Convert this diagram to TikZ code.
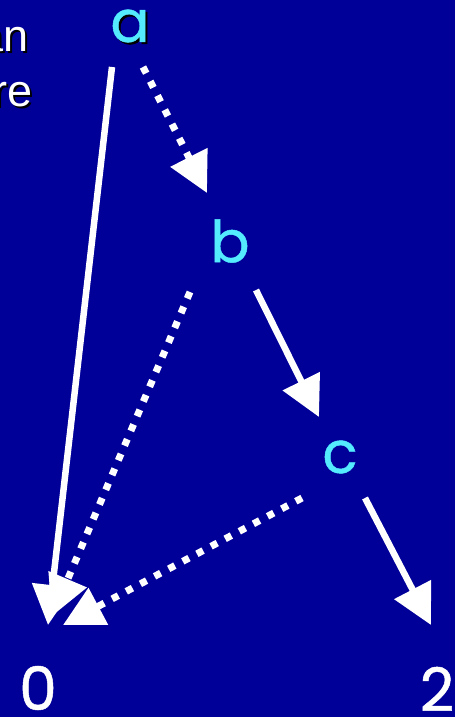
\documentclass[tikz,border=0pt]{standalone}
\usepackage{fontspec}
\setmainfont{Liberation Sans}
\newfontfamily\labelfont{Poppins}[FakeBold=0.8]
\usetikzlibrary{arrows.meta,calc}
\definecolor{bgblue}{RGB}{0,0,153}
\definecolor{labelcyan}{RGB}{85,235,255}

\begin{document}
\begin{tikzpicture}[x=1pt, y=-1pt,
	every node/.style={inner sep=0pt},
	letter/.style={font=\labelfont\fontsize{58}{58}\selectfont, text=labelcyan},
	digit/.style={font=\labelfont\fontsize{60}{60}\selectfont, text=white},
	word/.style={font=\fontsize{45}{45}\selectfont, text=white, anchor=base east},
	>={Triangle[length=40pt,width=40pt]},
	plain/.style={->, white, line width=6.5pt},
	dots/.style={->, white, line width=7pt, dash pattern=on 7pt off 9pt}]
	\useasboundingbox (0,0) rectangle (455,717);
	\fill[bgblue] (0,0) rectangle (455,717);
	\clip (0,0) rectangle (455,717);
	% words cut at the left edge
	\node[word, text=black] (anshadow) at (31,54) {an};
	\node[word] (an) at (29,52) {an};
	\node[word, text=black] (reshadow) at (35,108) {re};
	\node[word] (re) at (33,106) {re};
	% labels
	\node[letter, text=black] (ashadow) at (132,28) {a};
	\node[letter] (a) at (130,26) {a};
	\node[letter] (b) at (230,241) {b};
	\node[letter] (c) at (340,457) {c};
	\node[digit] (zero) at (38,688) {0};
	\node[digit] (two) at (437,689) {2};
	% dotted edges
	\draw[dots] ($(a)+(13,41)$) -- ($(b)+(-23,-48)$);
	\draw[dots] ($(b)+(-40,51)$) -- ($(zero)+(14,-72)$);
	\draw[dots] ($(c)+(-38,41)$) -- ($(zero)+(25,-63)$);
	% solid edges
	\draw[plain] ($(a)+(-18,41)$) -- ($(zero)+(10,-63)$);
	\draw[plain] ($(b)+(26,49)$) -- ($(c)+(-21,-40)$);
	\draw[plain] ($(c)+(25,41)$) -- ($(two)+(-6,-64)$);
\end{tikzpicture}
\end{document}
